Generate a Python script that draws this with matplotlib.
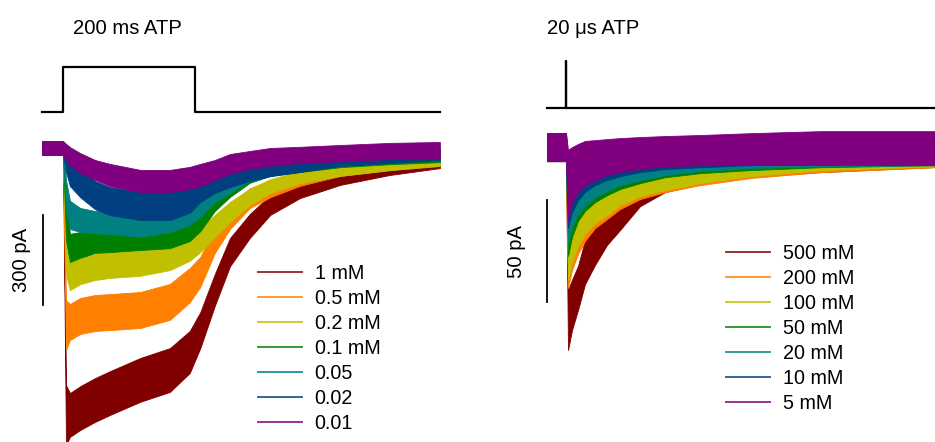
import numpy as np
import matplotlib
matplotlib.use("Agg")
import matplotlib.pyplot as plt
from matplotlib.lines import Line2D

plt.rcParams['font.family'] = ['Liberation Sans', 'DejaVu Sans']

W, H = 935, 442

# ---------------- 200 ms ATP application (left) ----------------
t_long = [-32, -1.5, 0, 4.5, 10.5, 26, 48.5, 71, 117, 162, 192, 208, 230, 253,
          283, 314, 359, 420, 495, 571]  # ms

long_labels = ['1 mM', '0.5 mM', '0.2 mM', '0.1 mM', '0.05', '0.02', '0.01']

# mean current (pA) and noise half-width (pA) of each trace
long_mean = {
    '1 mM':   [0, 0, 0, -890, -890, -867, -840, -817, -773, -740, -680, -607, -473, -347, -260, -190, -140, -100, -70, -47],
    '0.5 mM': [0, 0, 0, -590, -580, -560, -550, -547, -540, -513, -457, -413, -307, -230, -167, -137, -103, -73, -53, -37],
    '0.2 mM': [0, 0, 0, -340, -427, -407, -397, -390, -383, -367, -333, -307, -260, -213, -163, -127, -97, -73, -57, -43],
    '0.1 mM': [0, 0, 0, -240, -333, -323, -307, -307, -300, -297, -273, -240, -173, -133, -93, -73, -60, -47, -37, -30],
    '0.05':   [0, 0, 0, -157, -223, -240, -247, -250, -263, -247, -223, -197, -147, -120, -83, -63, -47, -33, -27, -23],
    '0.02':   [0, 0, 0, -40, -80, -117, -157, -177, -193, -193, -173, -140, -113, -97, -80, -67, -57, -40, -30, -23],
    '0.01':   [0, 0, 0, -13, -27, -50, -73, -90, -110, -110, -100, -90, -73, -53, -40, -30, -23, -17, -10, -7],
}
long_noise = {
    '1 mM':   [23, 23, 23, 100, 73, 73, 73, 73, 73, 73, 70, 60, 53, 47, 40, 33, 27, 23, 20, 20],
    '0.5 mM': [23, 23, 23, 83, 60, 60, 60, 60, 60, 60, 57, 50, 43, 40, 33, 27, 23, 20, 20, 17],
    '0.2 mM': [23, 23, 23, 83, 47, 47, 43, 43, 43, 40, 43, 40, 37, 33, 27, 23, 20, 20, 17, 17],
    '0.1 mM': [23, 23, 23, 67, 47, 43, 43, 40, 40, 37, 37, 37, 37, 30, 23, 20, 20, 17, 17, 17],
    '0.05':   [23, 23, 23, 50, 47, 40, 37, 37, 33, 33, 33, 33, 33, 30, 27, 23, 20, 20, 17, 17],
    '0.02':   [23, 23, 23, 40, 47, 47, 47, 47, 47, 47, 43, 40, 37, 33, 30, 27, 23, 20, 20, 17],
    '0.01':   [23, 23, 23, 27, 30, 33, 33, 37, 37, 37, 37, 37, 33, 33, 30, 30, 27, 27, 27, 27],
}
long_stim_t = [-32, 0, 0, 200, 200, 571]
long_stim_v = [0, 0, 1, 1, 0, 0]

# ---------------- 20 us ATP photorelease (right) ----------------
t_short = [-1.9, -0.1, 0, 0.2, 0.6, 1.2, 1.9, 2.9, 4.1, 5.4, 7.4, 9.9, 13.4, 18.4, 25.4, 36.9]  # ms

short_labels = ['500 mM', '200 mM', '100 mM', '50 mM', '20 mM', '10 mM', '5 mM']

short_mean = {
    '500 mM': [0, 0, 0, -84.8, -77.4, -69.1, -56.4, -48.0, -38.2, -31.9, -22.1, -16.2, -12.7, -9.3, -6.4, -3.9],
    '200 mM': [0, 0, 0, -55.4, -49.5, -43.6, -38.2, -32.3, -27.9, -23.0, -18.1, -14.7, -11.3, -7.8, -4.9, -2.5],
    '100 mM': [0, 0, 0, -51.5, -45.6, -39.7, -34.8, -29.9, -26.0, -21.1, -16.7, -13.7, -10.3, -6.9, -3.9, -2.0],
    '50 mM':  [0, 0, 0, -39.7, -33.3, -27.4, -23.5, -19.6, -16.2, -13.2, -10.3, -7.4, -5.4, -3.9, -2.5, -1.5],
    '20 mM':  [0, 0, 0, -33.3, -28.4, -24.0, -21.1, -17.2, -14.2, -11.3, -8.8, -6.4, -4.4, -2.9, -2.0, -1.5],
    '10 mM':  [0, 0, 0, -26.0, -21.1, -17.2, -14.2, -11.3, -8.8, -6.9, -4.9, -3.4, -2.5, -1.5, -1.0, -0.5],
    '5 mM':   [0, 0, 0, -18.6, -13.7, -10.3, -7.8, -6.4, -4.9, -3.9, -2.9, -2.0, -1.5, -1.0, -0.5, -0.5],
}
short_noise_big = [6.9, 6.9, 6.9, 14.7, 12.3, 10.8, 10.8, 9.8, 9.8, 8.8, 6.9, 5.9, 5.4, 5.4, 5.9, 5.9]
short_noise_mid = [6.9, 6.9, 6.9, 13.7, 10.8, 8.8, 7.8, 7.4, 7.4, 7.4, 7.4, 7.4, 7.4, 7.4, 7.4, 7.4]
short_noise_low = [6.9, 6.9, 6.9, 17.2, 13.7, 11.8, 10.8, 9.8, 8.8, 8.3, 7.8, 7.4, 7.4, 7.8, 8.3, 8.3]
short_noise = {
    '500 mM': short_noise_big,
    '200 mM': short_noise_mid, '100 mM': short_noise_mid, '50 mM': short_noise_mid,
    '20 mM': short_noise_mid, '10 mM': short_noise_mid,
    '5 mM': short_noise_low,
}
short_stim_t = [-1.9, 0, 0, 0.02, 0.02, 36.9]
short_stim_v = [0, 0, 1, 1, 0, 0]

colors = ['#800000', '#ff8000', '#c0c000', '#008000', '#008080', '#004080', '#800080']

FS_LEG = 14.2
FS_TXT = 14.6


def axes_px(fig, x0, x1, y0, y1):
    ax = fig.add_axes([x0 / W, 1 - y1 / H, (x1 - x0) / W, (y1 - y0) / H])
    ax.set_axis_off()
    return ax


fig = plt.figure(figsize=(W / 100, H / 100), dpi=100)

# ---- left panel ----
axL = axes_px(fig, 0, 467, 0, 442)
axL.set_xlim(-95.5, 612.1)
axL.set_ylim(-980, 493.3)
for lab, c in zip(long_labels, colors):
    m = np.array(long_mean[lab], float)
    n = np.array(long_noise[lab], float)
    axL.fill_between(t_long, m - n, m + n, color=c, lw=0.6, edgecolor=c)
# 300 pA scale bar
axL.plot([-30.3, -30.3], [-223, -523], color='black', lw=1.3)
axL.text(-63, -373, '300 pA', rotation=90, ha='center', va='center', fontsize=FS_TXT)

stL = axes_px(fig, 0, 467, 0, 442)
stL.set_xlim(-95.5, 612.1)
stL.set_ylim(-7.333, 2.489)
stL.plot(long_stim_t, long_stim_v, color='black', lw=1.6)

# ---- right panel ----
axR = axes_px(fig, 467, 935, 0, 442)
axR.set_xlim(-9.9, 36.9)
axR.set_ylim(-144.6, 72.1)
for lab, c in zip(short_labels, colors):
    m = np.array(short_mean[lab], float)
    n = np.array(short_noise[lab], float)
    axR.fill_between(t_short, m - n, m + n, color=c, lw=0.6, edgecolor=c)
axR.plot([-1.9, -1.9], [-26, -76], color='black', lw=1.3)
axR.text(-4.9, -51, '50 pA', rotation=90, ha='center', va='center', fontsize=FS_TXT)

stR = axes_px(fig, 467, 935, 0, 442)
stR.set_xlim(-9.9, 36.9)
stR.set_ylim(-7.106, 2.298)
stR.plot(short_stim_t, short_stim_v, color='black', lw=1.6)

fig.text(73 / W, 1 - 28 / H, '200 ms ATP', ha='left', va='center', fontsize=FS_TXT)
fig.text(547 / W, 1 - 28 / H, '20 \u03bcs ATP', ha='left', va='center', fontsize=FS_TXT)

# ---- legends ----
hL = [Line2D([], [], color=c, lw=1.4, alpha=0.8) for c in colors]
leg_kw = dict(loc='upper left', bbox_transform=fig.transFigure, frameon=False,
              fontsize=FS_LEG, handlelength=2.25, handletextpad=0.62,
              labelspacing=0.305, borderpad=0, borderaxespad=0)
axL.legend(hL, long_labels, bbox_to_anchor=(258 / W, 1 - 264 / H), **leg_kw)
axR.legend(hL, short_labels, bbox_to_anchor=(726 / W, 1 - 244 / H), **leg_kw)

fig.savefig('out.png', dpi=100)
